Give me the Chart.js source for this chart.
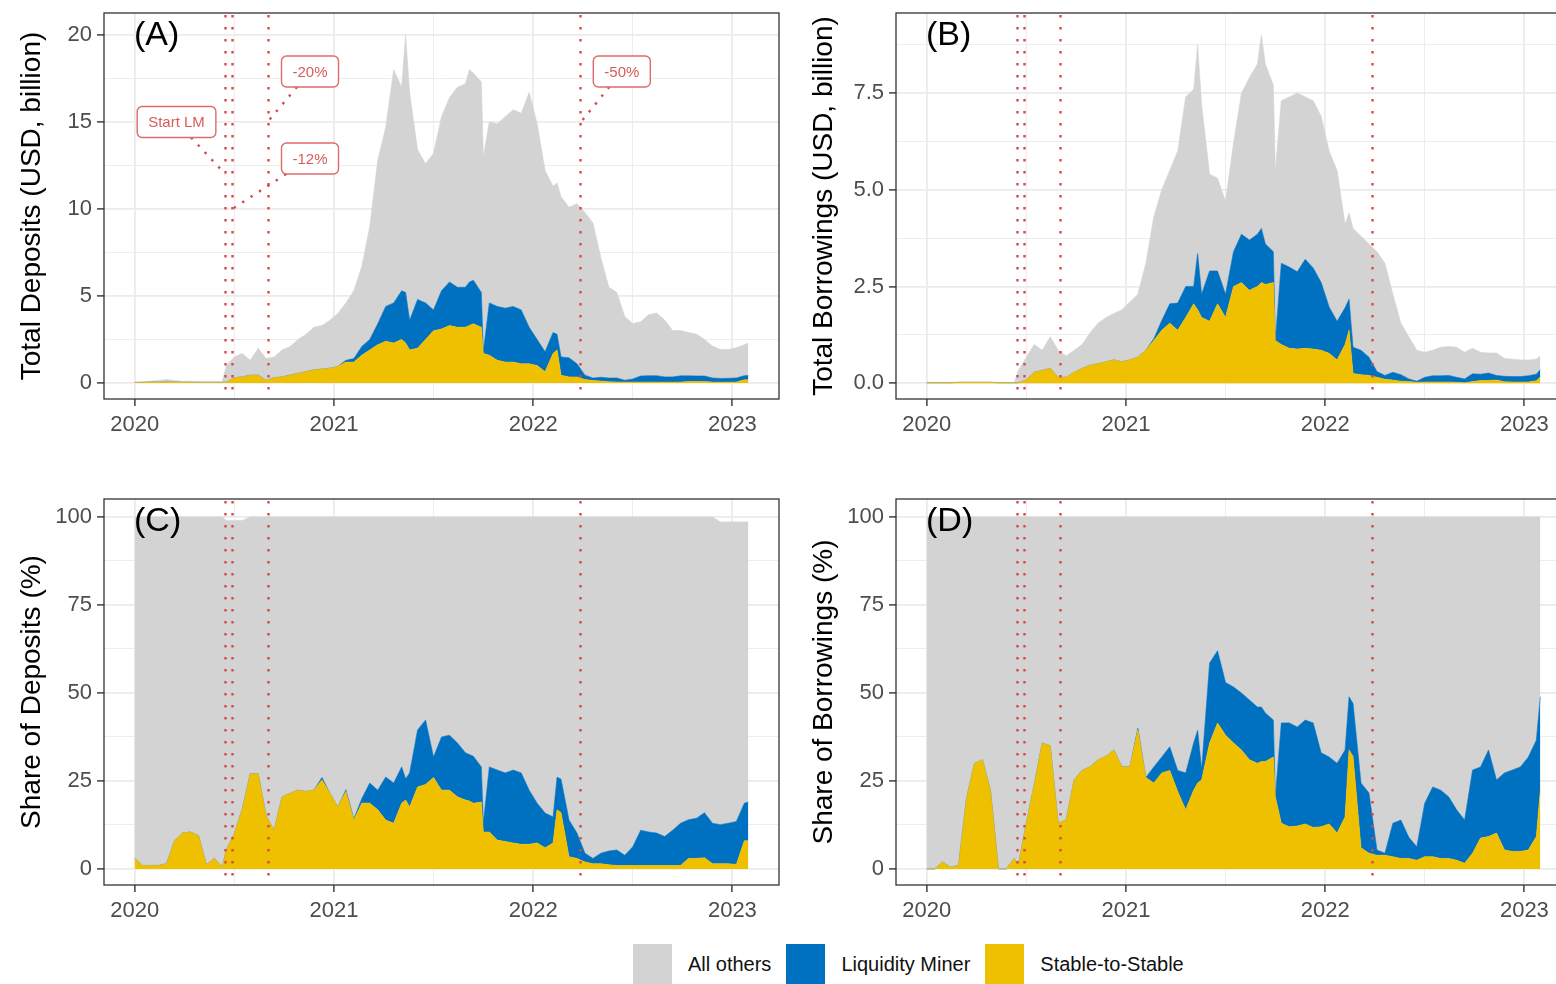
<!DOCTYPE html>
<html>
<head>
<meta charset="utf-8">
<title>Deposits and borrowings by user type</title>
<script src="https://cdn.jsdelivr.net/npm/chart.js@4.4.1/dist/chart.umd.min.js"></script>
<style>
  html, body { margin: 0; padding: 0; background: #fff; overflow: hidden; }
  body { width: 1556px; height: 984px; position: relative; font-family: "Liberation Sans", Arial, sans-serif; }
  .panel { position: absolute; width: 790px; height: 450px; }
  #legend { position: absolute; left: 633px; top: 944px; height: 40px; display: flex; align-items: center; font-size: 20px; color: #111; white-space: nowrap; }
  #legend .key { width: 39px; height: 40px; }
  #legend .lab { margin: 0 15px 0 16px; }
</style>
</head>
<body>
<div class="panel" style="left:0;top:0"><canvas id="panelA" width="790" height="450"></canvas></div>
<div class="panel" style="left:792px;top:0"><canvas id="panelB" width="790" height="450"></canvas></div>
<div class="panel" style="left:0;top:486px"><canvas id="panelC" width="790" height="450"></canvas></div>
<div class="panel" style="left:792px;top:486px"><canvas id="panelD" width="790" height="450"></canvas></div>
<div id="legend"></div>
<script>
// dates as decimal years
const dates = [
  2020.00, 2020.04, 2020.08, 2020.12, 2020.16, 2020.20, 2020.24, 2020.28, 2020.32, 2020.36,
  2020.40, 2020.44, 2020.46, 2020.50, 2020.54, 2020.58, 2020.62, 2020.66, 2020.70, 2020.74,
  2020.78, 2020.82, 2020.86, 2020.90, 2020.94, 2020.98, 2021.02, 2021.06, 2021.10, 2021.14,
  2021.18, 2021.22, 2021.26, 2021.30, 2021.34, 2021.36, 2021.38, 2021.42, 2021.46, 2021.50,
  2021.54, 2021.58, 2021.62, 2021.66, 2021.68, 2021.70, 2021.74, 2021.75, 2021.78, 2021.82,
  2021.86, 2021.90, 2021.94, 2021.98, 2022.02, 2022.06, 2022.10, 2022.12, 2022.14, 2022.18,
  2022.22, 2022.26, 2022.30, 2022.34, 2022.38, 2022.42, 2022.46, 2022.50, 2022.54, 2022.58,
  2022.62, 2022.66, 2022.70, 2022.74, 2022.78, 2022.82, 2022.86, 2022.90, 2022.94, 2022.98,
  2023.02, 2023.06, 2023.08
];

// (A) total deposits, USD billion
const depStable = [
  0.03, 0.03, 0.05, 0.05, 0.06, 0.05, 0.04, 0.04, 0.03, 0.03,
  0.03, 0.03, 0.05, 0.3, 0.35, 0.45, 0.45, 0.15, 0.3, 0.35,
  0.45, 0.55, 0.65, 0.75, 0.8, 0.85, 0.95, 1.2, 1.2, 1.6,
  1.9, 2.2, 2.4, 2.3, 2.5, 2.3, 1.9, 2.0, 2.5, 3.0,
  3.1, 3.3, 3.2, 3.2, 3.3, 3.4, 3.2, 1.7, 1.6, 1.3,
  1.2, 1.2, 1.1, 1.1, 1.0, 0.65, 1.7, 1.9, 0.45, 0.35,
  0.35, 0.2, 0.14, 0.11, 0.07, 0.06, 0.05, 0.05, 0.05, 0.05,
  0.05, 0.05, 0.05, 0.05, 0.09, 0.08, 0.08, 0.05, 0.05, 0.05,
  0.05, 0.18, 0.18
];
const depMiner = [
  0, 0, 0, 0, 0, 0, 0, 0, 0, 0,
  0, 0, 0, 0, 0, 0, 0, 0, 0, 0,
  0, 0, 0, 0, 0, 0, 0, 0.1, 0.2, 0.5,
  0.6, 1.2, 2.0, 2.3, 2.8, 2.9, 1.7, 2.8, 2.1, 1.2,
  2.2, 2.5, 2.3, 2.3, 2.5, 2.5, 2.0, 0.1, 3.0, 3.1,
  3.1, 3.2, 3.1, 2.1, 1.5, 1.15, 1.2, 0.9, 1.05, 1.1,
  0.75, 0.25, 0.14, 0.22, 0.21, 0.23, 0.11, 0.18, 0.35, 0.37,
  0.37, 0.3, 0.3, 0.36, 0.32, 0.32, 0.32, 0.24, 0.21, 0.22,
  0.24, 0.24, 0.25
];
const depOthers = [
  0.02, 0.05, 0.05, 0.1, 0.14, 0.1, 0.06, 0.06, 0.07, 0.07,
  0.07, 0.07, 0.95, 1.2, 1.35, 0.85, 1.55, 1.25, 1.2, 1.55,
  1.65, 1.95, 2.15, 2.45, 2.5, 2.75, 3.05, 3.3, 3.9, 4.6,
  6.5, 9.4, 10.3, 13.4, 11.7, 14.8, 13.1, 8.6, 8.0, 9.0,
  10.0, 10.6, 11.5, 11.7, 12.2, 11.9, 12.1, 11.2, 10.4, 10.5,
  11.0, 11.3, 11.3, 13.5, 12.4, 10.4, 8.4, 8.7, 9.2, 8.65,
  9.2, 9.35, 8.92, 6.87, 5.22, 4.91, 3.65, 3.19, 3.12, 3.5,
  3.6, 3.27, 2.67, 2.6, 2.49, 2.4, 2.1, 1.83, 1.66, 1.65,
  1.73, 1.78, 1.87
];

// (B) total borrowings, USD billion
const borStable = [
  0.01, 0.01, 0.01, 0.01, 0.02, 0.02, 0.02, 0.02, 0.02, 0.01,
  0.01, 0.01, 0.01, 0.08, 0.28, 0.33, 0.38, 0.15, 0.15, 0.28,
  0.38, 0.46, 0.5, 0.55, 0.6, 0.55, 0.6, 0.67, 0.85, 1.1,
  1.37, 1.55, 1.37, 1.7, 2.05, 1.9, 1.7, 1.6, 2.05, 1.7,
  2.5, 2.6, 2.4, 2.5, 2.6, 2.55, 2.6, 1.1, 1.0, 0.9,
  0.88, 0.9, 0.88, 0.85, 0.77, 0.6, 1.0, 1.37, 0.25, 0.22,
  0.2, 0.15, 0.1, 0.08, 0.05, 0.04, 0.02, 0.03, 0.03, 0.03,
  0.03, 0.02, 0.01, 0.04, 0.07, 0.07, 0.08, 0.035, 0.03, 0.03,
  0.03, 0.06, 0.16
];
const borMiner = [
  0, 0, 0, 0, 0, 0, 0, 0, 0, 0,
  0, 0, 0, 0, 0, 0, 0, 0, 0, 0,
  0, 0, 0, 0, 0, 0, 0, 0, 0, 0.05,
  0.25, 0.5, 0.7, 0.8, 0.45, 1.45, 0.6, 1.3, 0.85, 0.6,
  0.9, 1.25, 1.3, 1.35, 1.4, 1.05, 0.8, 0, 2.1, 2.1,
  2.0, 2.3, 2.1, 1.75, 1.2, 1.0, 0.95, 0.8, 0.68, 0.63,
  0.47, 0.15, 0.1, 0.2, 0.17, 0.07, 0.03, 0.12, 0.16, 0.16,
  0.17, 0.13, 0.1, 0.2, 0.16, 0.19, 0.12, 0.14, 0.14, 0.14,
  0.16, 0.17, 0.19
];
const borOthers = [
  0.01, 0.01, 0.01, 0.01, 0.01, 0.01, 0.01, 0.01, 0.01, 0.01,
  0.01, 0.01, 0.32, 0.59, 0.72, 0.52, 0.82, 0.7, 0.55, 0.57,
  0.62, 0.84, 1.05, 1.15, 1.2, 1.35, 1.5, 1.63, 2.25, 3.15,
  3.38, 3.45, 3.93, 4.9, 5.1, 5.4, 4.9, 2.5, 2.4, 2.4,
  2.8, 3.65, 4.2, 4.4, 5.0, 4.65, 4.3, 4.4, 4.2, 4.4,
  4.62, 4.2, 4.32, 4.3, 4.03, 3.9, 2.15, 2.23, 3.07, 2.95,
  2.93, 3.1, 2.9, 2.02, 1.33, 1.09, 0.8, 0.65, 0.66, 0.74,
  0.75, 0.78, 0.69, 0.66, 0.57, 0.52, 0.58, 0.465, 0.45, 0.43,
  0.41, 0.39, 0.35
];

// (C) share of deposits, %
const depShareStable = [
  3, 1, 1, 1, 1.5, 8, 10.2, 10.5, 9.5, 1.2,
  3, 0.5, 5.5, 10, 17, 27, 27, 15, 11, 20.5,
  21.5, 22.4, 22, 22.4, 25.3, 21.5, 17.6, 22, 13.9, 18.7,
  18.7, 16.8, 13.9, 13, 18.7, 19.6, 17.6, 23.3, 24, 26,
  22.4, 22.4, 20.5, 19.6, 19.3, 18.7, 19, 10.5, 10.5, 8.2,
  7.8, 7.4, 7.0, 7.0, 7.4, 6.0, 7.4, 16.8, 16, 3.5,
  3.0, 2.0, 1.5, 1.5, 1.2, 1.0, 1.0, 1.0, 1.0, 1.0,
  1.0, 1.0, 1.0, 1.0, 3.0, 3.0, 3.2, 1.5, 1.5, 1.5,
  1.3, 8, 8
];
const depShareMiner = [
  0, 0, 0, 0, 0, 0, 0, 0, 0, 0,
  0, 0, 0, 0, 0, 0, 0, 0, 0, 0,
  0, 0, 0, 0, 0.7, 0, 0, 0.5, 0.3, 1.3,
  5.7, 5.6, 12.2, 11.4, 10.3, 6, 9.7, 16.2, 18.3, 5.8,
  15.1, 15.6, 15.3, 13.4, 13.2, 13.3, 10, 2.5, 18.5, 19.9,
  19.5, 20.7, 20.3, 15.4, 11.3, 9.9, 7.4, 9.3, 9.5, 10.4,
  7.2, 2.5, 1.5, 3, 3.9, 4.4, 2.9, 5.3, 10, 9.5,
  9.2, 8.2, 10, 12, 11, 11.4, 12.8, 11.5, 11.1, 11.5,
  12.2, 10.7, 11
];
const depShareOthers = [
  97, 99, 99, 99, 98.5, 92, 89.8, 89.5, 90.5, 98.8,
  97, 99.5, 93.5, 89, 82, 73, 73, 85, 89, 79.5,
  78.5, 77.6, 78, 77.6, 74, 78.5, 82.4, 77.5, 85.8, 80,
  75.6, 77.6, 73.9, 75.6, 71, 74.4, 72.7, 60.5, 57.7, 68.2,
  62.5, 62, 64.2, 67, 67.5, 68, 71, 87, 71, 71.9,
  72.7, 71.9, 72.7, 77.6, 81.3, 84.1, 85.2, 73.9, 74.5, 86.1,
  89.8, 95.5, 97, 95.5, 94.9, 94.6, 96.1, 93.7, 89, 89.5,
  89.8, 90.8, 89, 87, 86, 85.6, 84, 87, 86, 85.6,
  85.1, 79.9, 79.6
];

// (D) share of borrowings, %
const borShareStable = [
  0, 0, 2, 0.5, 1, 20, 30, 31, 22.4, 0,
  0, 3, 1, 13, 24, 35.8, 35, 13, 13.9, 25.3,
  28, 29, 31, 32, 33.8, 29, 29, 39.5, 26, 24.4,
  27.3, 28, 22, 16.8, 22.4, 24.4, 25.3, 35.8, 41.5, 38,
  35.8, 33.8, 31, 30, 30.5, 30.5, 31.8, 20.5, 13, 12,
  12.2, 12.8, 11.8, 12, 12.8, 10.2, 14.8, 33.8, 32, 6,
  4.5, 3.9, 3.9, 3.5, 3, 3, 2.5, 3.5, 3.5, 3,
  3, 2.5, 1.6, 4.5, 8.8, 9.2, 10.2, 5.4, 5, 5,
  5.4, 9.2, 22.4
];
const borShareMiner = [
  0, 0, 0, 0, 0, 0, 0, 0, 0, 0,
  0, 0, 0, 0, 0, 0, 0, 0, 0, 0,
  0, 0, 0, 0, 0, 0, 0, 0.5, 0, 4.6,
  4.5, 6.7, 6, 10.5, 13.4, 15, 3, 22.7, 20.5, 15,
  15.9, 16.2, 17, 16, 15.5, 13.8, 10.5, 0, 28.5, 29.5,
  28.1, 29.5, 29.7, 21, 19, 19.8, 19, 15.1, 15, 18.4,
  17.1, 1.5, 0.6, 9.5, 10.9, 6, 3.8, 15.2, 19.8, 19.4,
  17.5, 14.3, 12.3, 23.6, 20.2, 24.6, 15.1, 21.9, 23.1, 24,
  26.4, 27.4, 26.5
];
const borShareOthers = [
  100, 100, 98, 99.5, 99, 80, 70, 69, 77.6, 100,
  100, 97, 99, 87, 76, 64.2, 65, 87, 86.1, 74.7,
  72, 71, 69, 68, 66.2, 71, 71, 60, 74, 71,
  68.2, 65.3, 72, 72.7, 64.2, 60.6, 71.7, 41.5, 38, 47,
  48.3, 50, 52, 54, 54, 55.7, 57.7, 79.5, 58.5, 58.5,
  59.7, 57.7, 58.5, 67, 68.2, 70, 66.2, 51.1, 53, 75.6,
  78.4, 94.6, 95.5, 87, 86.1, 91, 93.7, 81.3, 76.7, 77.6,
  79.5, 83.2, 86.1, 71.9, 71, 66.2, 74.7, 72.7, 71.9, 71,
  68.2, 63.4, 51.1
];

// policy event dates (vertical dotted lines)
const eventDates = [2020.455, 2020.486, 2020.667, 2022.235];

const xTicks = [2020, 2020.5, 2021, 2021.5, 2022, 2022.5, 2023];
const depTicks = [0, 2.5, 5, 7.5, 10, 12.5, 15, 17.5, 20];
const borTicks = [0, 1.25, 2.5, 3.75, 5, 6.25, 7.5, 8.75];
const shareTicks = [0, 12.5, 25, 37.5, 50, 62.5, 75, 87.5, 100];

const COLORS = { others: '#d3d3d3', miner: '#0070c0', stable: '#eec000' };
const RED = '#d64a4a';
const FONT = '"Liberation Sans", Arial, sans-serif';

Chart.defaults.font.family = FONT;

// legend
const legend = document.getElementById('legend');
[['All others', COLORS.others], ['Liquidity Miner', COLORS.miner], ['Stable-to-Stable', COLORS.stable]].forEach(([name, col]) => {
  const k = document.createElement('span'); k.className = 'key'; k.style.background = col;
  const t = document.createElement('span'); t.className = 'lab'; t.textContent = name;
  legend.appendChild(k); legend.appendChild(t);
});

function isMajor(v, step) {
  const r = v / step;
  return Math.abs(r - Math.round(r)) < 1e-6;
}

function gridFor(step) {
  return {
    color: '#ebebeb',
    lineWidth: c => isMajor(c.tick.value, step) ? 1.8 : 0.9,
    tickLength: 7,
    tickWidth: 1.4,
    tickColor: c => isMajor(c.tick.value, step) ? '#333333' : 'rgba(0,0,0,0)'
  };
}

function drawCallout(ctx, x, y, c) {
  const cx = x.getPixelForValue(c.at[0]), cy = y.getPixelForValue(c.at[1]);
  const tx = x.getPixelForValue(c.to[0]), ty = y.getPixelForValue(c.to[1]);
  ctx.font = '15px ' + FONT;
  const w = ctx.measureText(c.text).width + 22, h = 31;
  const dx = tx - cx, dy = ty - cy;
  const s = Math.min((w / 2) / Math.max(Math.abs(dx), 1e-6), (h / 2) / Math.max(Math.abs(dy), 1e-6));
  ctx.strokeStyle = RED;
  ctx.lineWidth = 2.4;
  ctx.setLineDash([2.4, 7.6]);
  ctx.beginPath();
  ctx.moveTo(cx + dx * s, cy + dy * s);
  ctx.lineTo(tx, ty);
  ctx.stroke();
  ctx.setLineDash([]);
  ctx.lineWidth = 1.4;
  ctx.beginPath();
  ctx.roundRect(cx - w / 2, cy - h / 2, w, h, 5);
  ctx.fillStyle = '#ffffff';
  ctx.fill();
  ctx.strokeStyle = '#dd6b6b';
  ctx.stroke();
  ctx.fillStyle = '#d65c5c';
  ctx.textAlign = 'center';
  ctx.textBaseline = 'middle';
  ctx.fillText(c.text, cx, cy + 1);
}

function makeDecor(tag, callouts) {
  return {
    id: 'decor' + tag,
    afterDatasetsDraw(chart) {
      const {ctx, chartArea: a, scales: {x, y}} = chart;
      ctx.save();
      ctx.beginPath();
      ctx.rect(a.left, a.top, a.right - a.left, a.bottom - a.top);
      ctx.clip();
      ctx.strokeStyle = RED;
      ctx.lineWidth = 2.4;
      ctx.setLineDash([2.4, 9.6]);
      eventDates.forEach(d => {
        const px = Math.round(x.getPixelForValue(d)) + 0.5;
        ctx.beginPath();
        ctx.moveTo(px, a.top + 2);
        ctx.lineTo(px, a.bottom);
        ctx.stroke();
      });
      callouts.forEach(c => drawCallout(ctx, x, y, c));
      ctx.restore();

      ctx.save();
      ctx.fillStyle = '#000';
      ctx.font = '34px ' + FONT;
      ctx.textAlign = 'left';
      ctx.textBaseline = 'alphabetic';
      ctx.fillText(tag, a.left + 30, a.top + 32);
      ctx.strokeStyle = '#333333';
      ctx.lineWidth = 1.3;
      ctx.strokeRect(a.left, a.top, a.right - a.left, a.bottom - a.top);
      ctx.restore();
    }
  };
}

function makePanel(id, cfg) {
  const sets = [
    { label: 'Stable-to-Stable', values: cfg.stable, color: COLORS.stable, fill: 'origin' },
    { label: 'Liquidity Miner', values: cfg.miner, color: COLORS.miner, fill: '-1' },
    { label: 'All others', values: cfg.others, color: COLORS.others, fill: '-1' }
  ];
  new Chart(document.getElementById(id), {
    type: 'line',
    data: {
      datasets: sets.map(s => ({
        label: s.label,
        data: dates.map((d, i) => ({ x: d, y: s.values[i] })),
        backgroundColor: s.color,
        borderColor: s.color,
        borderWidth: 0.6,
        fill: s.fill,
        pointRadius: 0,
        tension: 0
      }))
    },
    options: {
      responsive: false,
      animation: false,
      events: [],
      layout: { padding: { left: 0, right: 11, top: 13, bottom: 0 } },
      plugins: { legend: { display: false }, tooltip: { enabled: false } },
      scales: {
        x: {
          type: 'linear',
          min: 2019.846,
          max: 2023.234,
          afterBuildTicks: s => { s.ticks = xTicks.map(v => ({ value: v })); },
          afterFit: s => { s.height = 51; s.paddingLeft = 0; s.paddingRight = 0; },
          border: { display: false },
          grid: gridFor(1),
          ticks: {
            color: '#4d4d4d', font: { size: 22 }, padding: 6, maxRotation: 0, autoSkip: false,
            callback: v => isMajor(v, 1) ? String(v) : ''
          }
        },
        y: {
          stacked: true,
          min: cfg.yMin,
          max: cfg.yMax,
          afterBuildTicks: s => { s.ticks = cfg.yTicks.map(v => ({ value: v })); },
          afterFit: s => { s.width = 104; s.paddingTop = 0; s.paddingBottom = 0; },
          border: { display: false },
          grid: gridFor(cfg.yMajor),
          ticks: {
            color: '#4d4d4d', font: { size: 22 }, padding: 5, autoSkip: false,
            callback: v => isMajor(v, cfg.yMajor) ? cfg.fmt(v) : ''
          },
          title: {
            display: true, text: cfg.title, color: '#000',
            font: { size: 28 }, padding: { top: 15, bottom: 0 }
          }
        }
      }
    },
    plugins: [makeDecor(cfg.tag, cfg.callouts || [])]
  });
}

const depositCallouts = [
  { text: 'Start LM', at: [2020.21, 15.0], to: [2020.455, 12.0] },
  { text: '-20%', at: [2020.88, 17.9], to: [2020.667, 15.0] },
  { text: '-12%', at: [2020.88, 12.9], to: [2020.49, 10.0] },
  { text: '-50%', at: [2022.445, 17.9], to: [2022.24, 15.0] }
];

makePanel('panelA', {
  tag: '(A)', title: 'Total Deposits (USD, billion)',
  stable: depStable, miner: depMiner, others: depOthers,
  yMin: -0.92, yMax: 21.26, yTicks: depTicks, yMajor: 5, fmt: v => String(v),
  callouts: depositCallouts
});
makePanel('panelB', {
  tag: '(B)', title: 'Total Borrowings (USD, billion)',
  stable: borStable, miner: borMiner, others: borOthers,
  yMin: -0.41, yMax: 9.57, yTicks: borTicks, yMajor: 2.5, fmt: v => v.toFixed(1)
});
makePanel('panelC', {
  tag: '(C)', title: 'Share of Deposits (%)',
  stable: depShareStable, miner: depShareMiner, others: depShareOthers,
  yMin: -4.55, yMax: 105.1, yTicks: shareTicks, yMajor: 25, fmt: v => String(v)
});
makePanel('panelD', {
  tag: '(D)', title: 'Share of Borrowings (%)',
  stable: borShareStable, miner: borShareMiner, others: borShareOthers,
  yMin: -4.55, yMax: 105.1, yTicks: shareTicks, yMajor: 25, fmt: v => String(v)
});
</script>
</body>
</html>
